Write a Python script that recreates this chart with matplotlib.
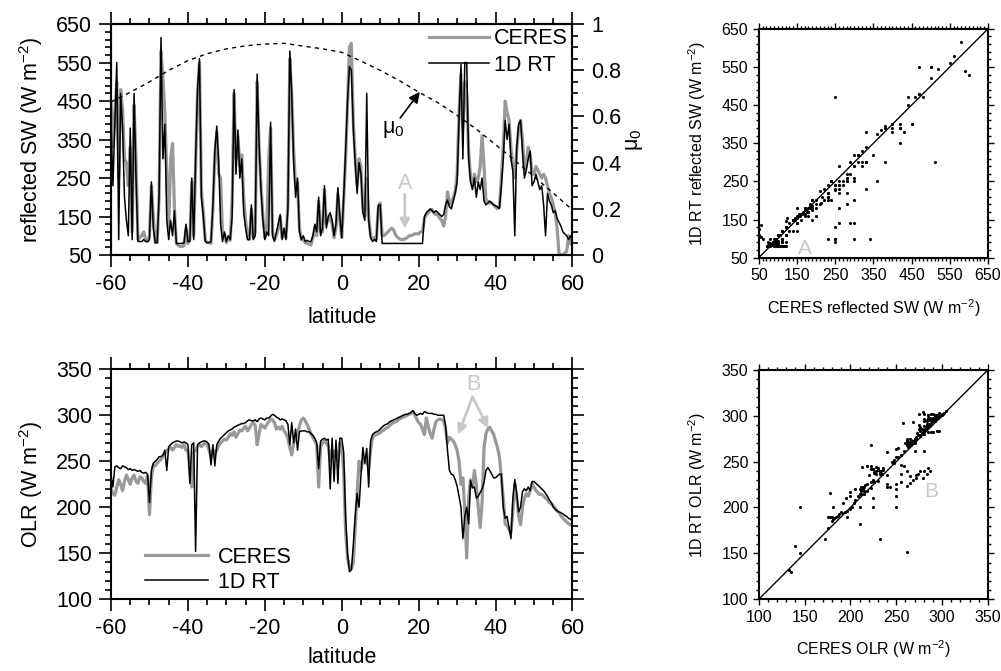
import numpy as np
import matplotlib
matplotlib.use("Agg")
import matplotlib.pyplot as plt
from matplotlib.ticker import MultipleLocator

plt.rcParams["font.family"] = ["Liberation Sans", "DejaVu Sans"]
plt.rcParams["mathtext.default"] = "regular"
plt.rcParams["axes.unicode_minus"] = False

# latitude grid, 0.5 deg
lat = np.arange(-60, 60.25, 0.5)

# reflected SW (W m-2)
sw_rt = [400, 230, 390, 550, 90, 470, 380, 200, 140, 100,
         380, 90, 470, 250, 85, 85, 85, 90, 85, 85,
         90, 240, 120, 82, 82, 200, 615, 300, 390, 140,
         90, 140, 100, 165, 80, 80, 80, 80, 82, 130,
         85, 85, 250, 90, 300, 480, 560, 200, 150, 85,
         82, 82, 85, 180, 320, 385, 290, 130, 85, 110,
         85, 100, 90, 150, 480, 260, 375, 250, 300, 160,
         120, 90, 90, 180, 90, 100, 520, 340, 220, 140,
         90, 110, 100, 395, 100, 85, 110, 130, 155, 90,
         120, 90, 170, 580, 470, 290, 200, 250, 110, 90,
         100, 85, 88, 85, 85, 100, 130, 110, 200, 100,
         120, 230, 120, 150, 160, 140, 100, 130, 225, 150,
         95, 200, 320, 450, 540, 530, 380, 290, 210, 290,
         260, 160, 140, 470, 140, 95, 85, 90, 85, 180,
         180, 80, 80, 80, 80, 80, 80, 80, 80, 80,
         80, 80, 80, 80, 80, 80, 80, 80, 80, 80,
         80, 80, 80, 150, 160, 165, 170, 165, 160, 165,
         160, 155, 150, 155, 180, 193, 175, 170, 190, 210,
         240, 400, 545, 300, 550, 550, 300, 240, 220, 250,
         200, 240, 220, 250, 190, 180, 185, 190, 185, 180,
         178, 175, 171, 227, 300, 400, 350, 390, 300, 270,
         100, 330, 390, 400, 320, 250, 270, 300, 320, 230,
         240, 260, 240, 220, 230, 180, 100, 210, 190, 180,
         160, 165, 145, 135, 125, 110, 105, 100, 90, 100,
         90]
sw_ceres = [450, 330, 420, 500, 250, 480, 430, 300, 290, 230,
            330, 110, 440, 300, 90, 95, 100, 110, 90, 85,
            100, 230, 150, 82, 82, 200, 580, 510, 420, 260,
            120, 300, 340, 170, 80, 75, 72, 72, 75, 120,
            80, 90, 240, 100, 290, 470, 550, 220, 160, 90,
            82, 82, 80, 170, 310, 370, 260, 250, 100, 105,
            82, 95, 88, 190, 470, 300, 360, 280, 310, 200,
            140, 95, 90, 170, 95, 110, 500, 330, 230, 150,
            95, 120, 300, 380, 110, 90, 100, 120, 150, 95,
            110, 95, 180, 560, 460, 320, 230, 240, 120, 90,
            90, 82, 80, 78, 76, 95, 120, 100, 190, 110,
            110, 220, 130, 140, 150, 130, 95, 120, 210, 140,
            95, 190, 300, 440, 590, 600, 400, 300, 230, 300,
            280, 170, 150, 250, 150, 100, 90, 95, 90, 170,
            185, 100, 100, 105, 110, 115, 120, 115, 102, 96,
            92, 90, 90, 92, 95, 100, 100, 102, 105, 105,
            105, 110, 110, 145, 155, 160, 165, 168, 158, 155,
            155, 145, 140, 125, 150, 214, 190, 180, 200, 215,
            260, 420, 520, 380, 500, 470, 320, 250, 230, 260,
            240, 250, 280, 360, 280, 190, 190, 185, 185, 180,
            175, 170, 175, 250, 330, 450, 420, 400, 330, 280,
            250, 320, 380, 400, 350, 270, 290, 330, 310, 260,
            260, 280, 270, 260, 250, 260, 250, 230, 210, 200,
            180, 160, 120, 55, 50, 50, 55, 60, 100, 80,
            75]

# OLR (W m-2)
olr_rt = [235, 222, 244, 245, 243, 242, 245, 244, 243, 241,
          242, 240, 241, 240, 239, 240, 238, 237, 238, 236,
          205, 240, 248, 250, 252, 255, 255, 257, 262, 240,
          266, 268, 270, 271, 272, 272, 271, 270, 271, 270,
          268, 226, 268, 270, 152, 268, 270, 271, 272, 272,
          271, 268, 246, 268, 245, 268, 272, 275, 277, 279,
          281, 283, 284, 285, 287, 288, 289, 290, 291, 291,
          292, 294, 295, 294, 294, 295, 293, 296, 297, 296,
          295, 297, 297, 299, 301, 300, 298, 297, 295, 296,
          295, 294, 290, 268, 292, 270, 285, 262, 282, 283,
          283, 283, 282, 282, 280, 278, 275, 270, 242, 272,
          274, 275, 273, 274, 220, 275, 228, 273, 226, 275,
          275, 260, 190, 150, 130, 132, 158, 190, 215, 200,
          235, 265, 248, 264, 222, 272, 279, 281, 282, 283,
          285, 287, 289, 290, 291, 293, 294, 295, 296, 297,
          298, 299, 300, 301, 301, 302, 303, 305, 302, 300,
          301, 302, 301, 304, 303, 302, 302, 302, 301, 301,
          300, 300, 300, 300, 289, 262, 240, 236, 235, 230,
          223, 212, 200, 166, 190, 200, 182, 229, 221, 222,
          210, 212, 216, 220, 227, 240, 243, 240, 236, 232,
          232, 234, 236, 236, 200, 188, 190, 178, 166, 210,
          230, 215, 195, 200, 217, 220, 218, 222, 218, 228,
          228, 226, 224, 222, 220, 218, 215, 212, 208, 205,
          200, 198, 196, 195, 194, 193, 191, 190, 188, 187,
          185]
olr_ceres = [220, 215, 213, 222, 230, 225, 218, 228, 235, 230,
             225, 232, 235, 228, 226, 233, 232, 228, 226, 234,
             192, 232, 246, 245, 248, 250, 252, 255, 258, 262,
             263, 265, 262, 265, 268, 266, 267, 265, 268, 262,
             262, 240, 222, 260, 262, 266, 268, 266, 268, 270,
             268, 262, 255, 262, 258, 262, 267, 270, 272, 274,
             273, 276, 280, 278, 282, 276, 280, 284, 283, 286,
             288, 283, 286, 290, 292, 289, 268, 280, 290, 288,
             286, 290, 293, 296, 295, 292, 285, 287, 285, 288,
             283, 280, 275, 265, 257, 270, 275, 280, 288, 295,
             297, 294, 290, 285, 280, 276, 272, 268, 222, 266,
             270, 272, 270, 266, 250, 262, 255, 262, 250, 270,
             265, 240, 175, 145, 135, 133, 140, 178, 215, 250,
             240, 252, 248, 250, 243, 262, 276, 278, 279, 280,
             281, 283, 284, 286, 287, 289, 291, 292, 293, 294,
             296, 297, 298, 299, 300, 301, 302, 304, 300, 296,
             292, 290, 285, 279, 297, 288, 280, 275, 285, 293,
             295, 296, 295, 294, 285, 270, 276, 274, 272, 268,
             262, 250, 225, 232, 196, 145, 210, 230, 222, 240,
             225, 200, 178, 205, 265, 280, 285, 287, 283, 279,
             272, 265, 255, 232, 210, 182, 180, 176, 172, 195,
             225, 212, 190, 181, 200, 210, 215, 212, 218, 226,
             222, 218, 216, 214, 214, 212, 210, 208, 205, 204,
             202, 199, 196, 194, 191, 188, 186, 184, 182, 181,
             180]

# cosine of solar zenith angle along the track
mu_lat = [-60, -55, -50, -45, -40, -35, -30, -25, -20, -15, -10, -5, 0,
          5, 10, 15, 20, 25, 30, 35, 40, 45, 50, 55, 60]
mu0 = [0.663, 0.705, 0.75, 0.80, 0.842, 0.872, 0.893, 0.906, 0.914, 0.917,
       0.905, 0.893, 0.878, 0.84, 0.80, 0.755, 0.706, 0.66, 0.605, 0.545,
       0.478, 0.41, 0.34, 0.268, 0.195]

GRAY = "#999999"
LIGHT = "#c8c8c8"
FS = 15.5


def style_line_axes(ax):
    for s in ax.spines.values():
        s.set_linewidth(1.5)
    ax.tick_params(which="both", direction="out", labelsize=FS, width=1.2, pad=5)
    ax.tick_params(which="major", length=8.5)
    ax.tick_params(which="minor", length=4.3)


def style_scatter_axes(ax):
    for s in ax.spines.values():
        s.set_linewidth(1.5)
    ax.tick_params(which="both", direction="out", labelsize=11.5, width=1,
                   top=True, right=True, pad=3)
    ax.tick_params(which="major", length=4.5)
    ax.tick_params(which="minor", length=2.5)


fig = plt.figure(figsize=(10.01, 6.71), dpi=100)

# ---- reflected SW vs latitude
ax1 = fig.add_axes([0.1109, 0.620, 0.461, 0.344])
ax1.plot(lat, sw_ceres, color=GRAY, lw=2.3, label="CERES")
ax1.plot(lat, sw_rt, color="black", lw=1.1, label="1D RT")
ax1.set_xlim(-60, 60)
ax1.set_ylim(50, 650)
ax1.xaxis.set_major_locator(MultipleLocator(20))
ax1.xaxis.set_minor_locator(MultipleLocator(5))
ax1.yaxis.set_major_locator(MultipleLocator(100, offset=50))
ax1.yaxis.set_minor_locator(MultipleLocator(20, offset=10))
style_line_axes(ax1)
ax1.tick_params(which="both", top=True, right=False)
ax1.set_xlabel("latitude", fontsize=FS, labelpad=9)
ax1.set_ylabel("reflected SW (W m$^{-2}$)", fontsize=FS, labelpad=8)
ax1.legend(loc="upper right", frameon=False, fontsize=FS, handlelength=2.8,
           handletextpad=0.25, labelspacing=0.25, borderaxespad=0.1,
           borderpad=0.1)

ax1b = ax1.twinx()
ax1b.plot(mu_lat, mu0, color="black", lw=1, linestyle=(0, (3, 3)))
ax1b.set_ylim(0, 1)
ax1b.yaxis.set_major_locator(MultipleLocator(0.2))
ax1b.yaxis.set_minor_locator(MultipleLocator(0.05))
ax1b.yaxis.set_major_formatter(plt.FuncFormatter(lambda v, p: f"{v:g}"))
style_line_axes(ax1b)
ax1b.set_ylabel("μ$_0$", fontsize=FS, labelpad=2)

ax1.text(13.3, 375, "μ$_0$", fontsize=FS, ha="center", va="center")
ax1.annotate("", xy=(20.3, 474), xytext=(15.2, 406),
             arrowprops=dict(arrowstyle="-|>", color="black", lw=1.2,
                             mutation_scale=16, shrinkA=0, shrinkB=0))
ax1.text(16.4, 237, "A", fontsize=FS, color=LIGHT, ha="center", va="center")
ax1.annotate("", xy=(16.4, 118), xytext=(16.4, 208),
             arrowprops=dict(arrowstyle="-|>", color=LIGHT, lw=2,
                             mutation_scale=14, shrinkA=0, shrinkB=0))

# ---- OLR vs latitude
ax2 = fig.add_axes([0.1109, 0.1069, 0.461, 0.3428])
ax2.plot(lat, olr_ceres, color=GRAY, lw=2.3, label="CERES")
ax2.plot(lat, olr_rt, color="black", lw=1.1, label="1D RT")
ax2.set_xlim(-60, 60)
ax2.set_ylim(100, 350)
ax2.xaxis.set_major_locator(MultipleLocator(20))
ax2.xaxis.set_minor_locator(MultipleLocator(5))
ax2.yaxis.set_major_locator(MultipleLocator(50))
ax2.yaxis.set_minor_locator(MultipleLocator(10))
style_line_axes(ax2)
ax2.tick_params(which="both", top=True, right=True)
ax2.set_xlabel("latitude", fontsize=FS, labelpad=6)
ax2.set_ylabel("OLR (W m$^{-2}$)", fontsize=FS, labelpad=8)
ax2.legend(loc="lower left", bbox_to_anchor=(0.06, 0.0), frameon=False,
           fontsize=FS, handlelength=2.9, handletextpad=0.5,
           labelspacing=0.2, borderaxespad=0.2, borderpad=0.1)
ax2.text(34.2, 333, "B", fontsize=FS, color=LIGHT, ha="center", va="center")
for tip in [(30.3, 279), (38.1, 286)]:
    ax2.annotate("", xy=tip, xytext=(34.0, 320),
                 arrowprops=dict(arrowstyle="-|>", color=LIGHT, lw=2,
                                 mutation_scale=14, shrinkA=0, shrinkB=0))

# ---- scatter SW
ax3 = fig.add_axes([0.758, 0.616, 0.229, 0.341])
ax3.scatter(sw_ceres, sw_rt, s=5, color="black", linewidths=0)
ax3.axline((0, 0), slope=1, color="black", lw=1)
ax3.set_xlim(50, 650)
ax3.set_ylim(50, 650)
ax3.xaxis.set_major_locator(MultipleLocator(100, offset=50))
ax3.xaxis.set_minor_locator(MultipleLocator(10))
ax3.yaxis.set_major_locator(MultipleLocator(100, offset=50))
ax3.yaxis.set_minor_locator(MultipleLocator(20, offset=10))
style_scatter_axes(ax3)
ax3.set_xlabel("CERES reflected SW (W m$^{-2}$)", fontsize=11.5, labelpad=10)
ax3.set_ylabel("1D RT reflected SW (W m$^{-2}$)", fontsize=11.5, labelpad=10)
ax3.text(170, 75, "A", fontsize=15, color=LIGHT, ha="center", va="center")

# ---- scatter OLR
ax4 = fig.add_axes([0.758, 0.1069, 0.229, 0.342])
ax4.scatter(olr_ceres, olr_rt, s=5, color="black", linewidths=0)
ax4.axline((0, 0), slope=1, color="black", lw=1)
ax4.set_xlim(100, 350)
ax4.set_ylim(100, 350)
ax4.xaxis.set_major_locator(MultipleLocator(50))
ax4.xaxis.set_minor_locator(MultipleLocator(10))
ax4.yaxis.set_major_locator(MultipleLocator(50))
ax4.yaxis.set_minor_locator(MultipleLocator(10))
style_scatter_axes(ax4)
ax4.set_xlabel("CERES OLR (W m$^{-2}$)", fontsize=11.5, labelpad=10)
ax4.set_ylabel("1D RT OLR (W m$^{-2}$)", fontsize=11.5, labelpad=10)
ax4.text(288, 217, "B", fontsize=15, color=LIGHT, ha="center", va="center")

fig.savefig("out.png", dpi=100)
